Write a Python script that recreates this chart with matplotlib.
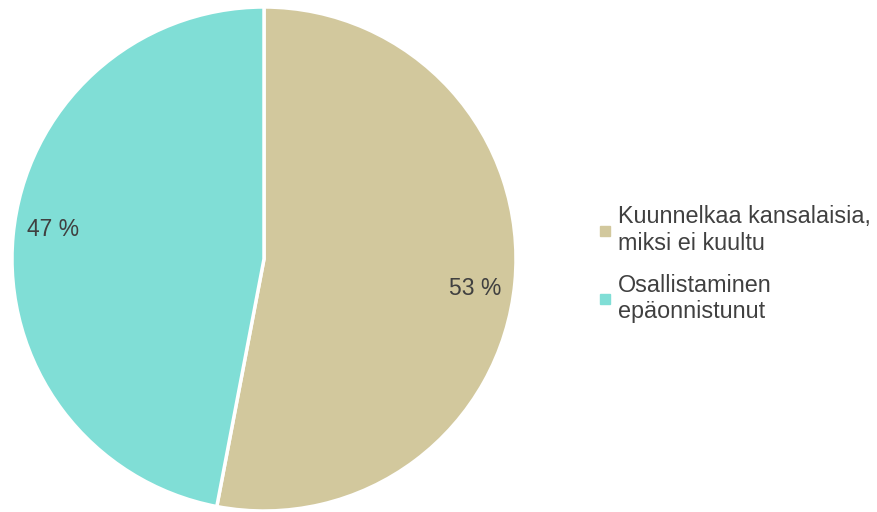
import numpy as np
import matplotlib.pyplot as plt
from matplotlib.lines import Line2D

plt.rcParams['font.family'] = ['Liberation Sans', 'DejaVu Sans']

labels = ['Kuunnelkaa kansalaisia,\nmiksi ei kuultu', 'Osallistaminen\nepäonnistunut']
values = [53, 47]
colors = ['#D2C89D', '#80DED6']

fig = plt.figure(figsize=(8.78, 5.12), dpi=100)
ax = fig.add_axes([12 / 878, 1 / 512, 504 / 878, 504 / 512])

wedges, texts, autotexts = ax.pie(values, colors=colors, startangle=90, counterclock=False,
                                  autopct=lambda p: '%d %%' % round(p), pctdistance=0.84,
                                  wedgeprops=dict(edgecolor='white', linewidth=2.5),
                                  textprops=dict(color='#404040', fontsize=16.5))
# nudge the percent labels slightly clockwise, like the original layout
for w, t in zip(wedges, autotexts):
    mid = np.deg2rad((w.theta1 + w.theta2) / 2 - 2.5)
    t.set_position((0.845 * np.cos(mid), 0.845 * np.sin(mid)))
ax.set_xlim(-1, 1)
ax.set_ylim(-1, 1)
ax.set_aspect('equal')

handles = [Line2D([], [], marker='s', linestyle='', markersize=7, color=c) for c in colors]
fig.legend(handles, labels, loc='center left', bbox_to_anchor=(577 / 878, 0.484),
           frameon=False, fontsize=16.8, labelcolor='#404040', handlelength=0.6,
           handletextpad=0.25, labelspacing=0.8)

fig.savefig('out.png', dpi=100)
